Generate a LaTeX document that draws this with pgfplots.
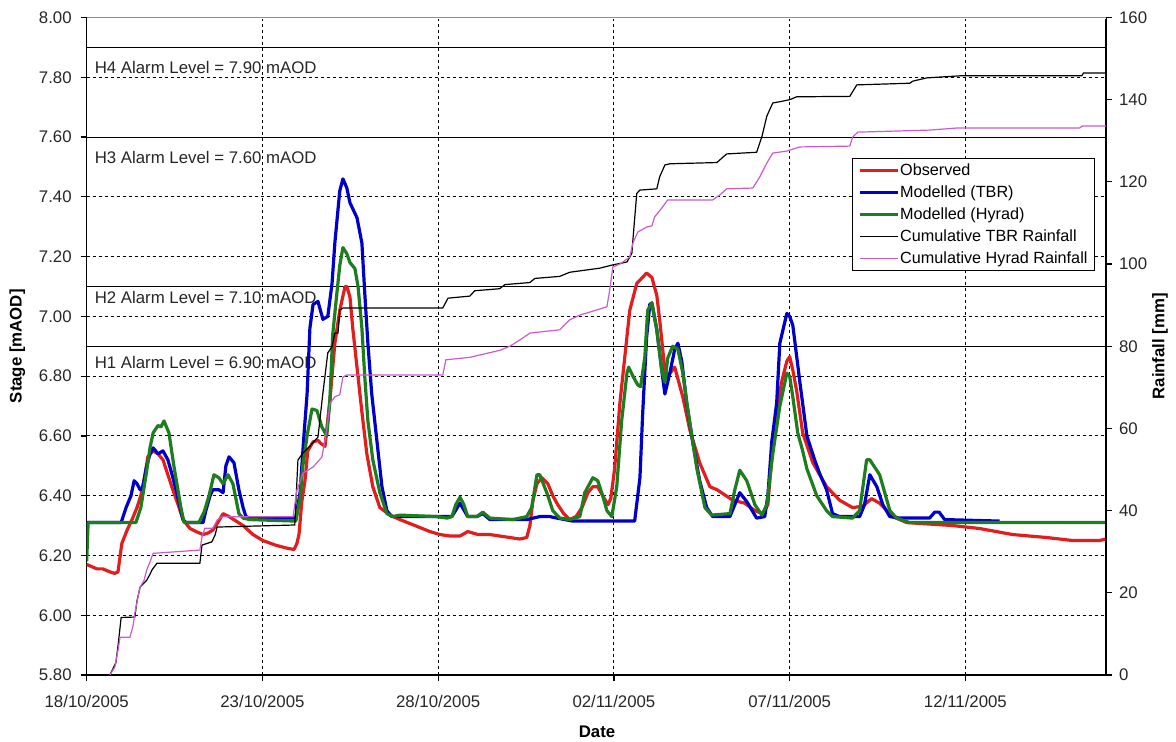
\documentclass[border=0pt]{standalone}
\usepackage{fontspec}
\setmainfont{Liberation Sans}
\usepackage{pgfplots}
\pgfplotsset{compat=1.18}
\definecolor{obsred}{RGB}{225,30,30}
\definecolor{tbrblue}{RGB}{0,0,200}
\definecolor{hygreen}{RGB}{30,125,30}
\definecolor{hymag}{RGB}{204,90,204}
\newcommand{\chartfont}{\fontsize{8.4pt}{10pt}\selectfont}
\newcommand{\legfont}{\fontsize{8.1pt}{10pt}\selectfont}

\begin{document}
\begin{tikzpicture}
\useasboundingbox (-43.35pt,-33.5pt) rectangle (544.65pt,337.5pt);
\begin{axis}[
  at={(0,0)}, anchor=south west, scale only axis,
  width=509.65pt, height=328.75pt,
  xmin=0, xmax=29, ymin=5.8, ymax=8.0,
  axis x line*=bottom, axis y line*=left,
  axis line style={black, line width=0.6pt},
  xtick={0,5,10,15,20,25},
  xticklabels={18/10/2005,23/10/2005,28/10/2005,02/11/2005,07/11/2005,12/11/2005},
  xticklabel style={yshift=-3.5pt},
  ytick={5.8,6.0,6.2,6.4,6.6,6.8,7.0,7.2,7.4,7.6,7.8,8.0},
  yticklabel={\pgfmathprintnumber[fixed,fixed zerofill,precision=2]{\tick}},
  yticklabel style={xshift=-1pt},
  /pgf/number format/assume math mode=true,
  tick label style={font=\chartfont, text=black!85},
  tick align=outside, major tick length=3pt,
  tick style={black, line width=0.6pt},
  grid=major,
  major grid style={black, dash pattern=on 1.5pt off 1.5pt, line width=0.5pt},
  xlabel={Date}, ylabel={Stage [mAOD]},
  label style={font=\chartfont\bfseries},
  xlabel style={at={(axis description cs:0.5007,-0.0867)}, anchor=center},
  ylabel style={at={(axis description cs:-0.068,0.5)}, anchor=center},
]
% alarm levels
\addplot[black, line width=0.5pt] coordinates {(0,7.90) (29,7.90)};
\addplot[black, line width=0.5pt] coordinates {(0,7.60) (29,7.60)};
\addplot[black, line width=0.5pt] coordinates {(0,7.10) (29,7.10)};
\addplot[black, line width=0.5pt] coordinates {(0,6.90) (29,6.90)};
\node[anchor=west, font=\chartfont, text=black!85, inner sep=0pt] at (axis cs:0.22,7.834) {H4 Alarm Level = 7.90 mAOD};
\node[anchor=west, font=\chartfont, text=black!85, inner sep=0pt] at (axis cs:0.22,7.532) {H3 Alarm Level = 7.60 mAOD};
\node[anchor=west, font=\chartfont, text=black!85, inner sep=0pt] at (axis cs:0.22,7.063) {H2 Alarm Level = 7.10 mAOD};
\node[anchor=west, font=\chartfont, text=black!85, inner sep=0pt] at (axis cs:0.22,6.845) {H1 Alarm Level = 6.90 mAOD};

% Observed
\addplot[obsred, line width=1.6pt, line join=round] coordinates {
(0.00,6.17) (0.29,6.155) (0.46,6.155) (0.66,6.145) (0.80,6.14) (0.89,6.145)
(1.00,6.24) (1.15,6.285) (1.29,6.32) (1.43,6.36) (1.54,6.40) (1.66,6.47)
(1.74,6.53) (1.89,6.55) (2.03,6.54) (2.17,6.52) (2.31,6.47) (2.45,6.42)
(2.60,6.37) (2.74,6.32) (2.94,6.29) (3.11,6.28) (3.31,6.27) (3.45,6.275)
(3.59,6.285) (3.73,6.31) (3.88,6.34) (4.05,6.33) (4.25,6.315) (4.45,6.30)
(4.73,6.27) (5.01,6.25) (5.36,6.235) (5.67,6.225) (5.90,6.22) (5.98,6.24)
(6.04,6.27) (6.12,6.38) (6.21,6.45) (6.29,6.55) (6.44,6.58) (6.58,6.585)
(6.66,6.575) (6.78,6.565) (6.92,6.72) (7.06,6.91) (7.20,7.02) (7.35,7.10)
(7.40,7.10) (7.49,7.065) (7.57,6.96) (7.69,6.83) (7.83,6.68) (7.97,6.54)
(8.14,6.43) (8.34,6.36) (8.63,6.335) (8.91,6.32) (9.34,6.30) (9.76,6.28)
(10.05,6.27) (10.33,6.265) (10.62,6.265) (10.84,6.28) (11.13,6.27) (11.47,6.27)
(11.75,6.265) (12.04,6.26) (12.32,6.255) (12.52,6.26) (12.61,6.30) (12.69,6.38)
(12.81,6.44) (12.95,6.46) (13.12,6.44) (13.26,6.40) (13.40,6.37) (13.57,6.34)
(13.74,6.32) (13.92,6.33) (14.09,6.36) (14.26,6.41) (14.40,6.43) (14.54,6.43)
(14.68,6.40) (14.83,6.37) (14.91,6.39) (15.02,6.49) (15.17,6.71) (15.31,6.865)
(15.45,7.02) (15.65,7.11) (15.93,7.145) (16.08,7.13) (16.22,7.07) (16.30,6.99)
(16.45,6.82) (16.53,6.80) (16.73,6.83) (16.96,6.73) (17.16,6.62) (17.44,6.51)
(17.73,6.43) (17.93,6.42) (18.38,6.385) (18.72,6.375) (19.01,6.35) (19.23,6.34)
(19.38,6.37) (19.49,6.53) (19.63,6.68) (19.77,6.78) (19.92,6.85) (20.00,6.865)
(20.09,6.82) (20.20,6.75) (20.37,6.61) (20.66,6.51) (21.05,6.43) (21.42,6.385)
(21.79,6.36) (22.08,6.365) (22.33,6.39) (22.56,6.375) (22.93,6.33) (23.33,6.31)
(23.98,6.305) (24.64,6.30) (25.41,6.29) (26.34,6.27) (27.31,6.26) (28.05,6.25)
(28.82,6.25) (29.00,6.255)
};
% Modelled (TBR)
\addplot[tbrblue, line width=1.6pt, line join=round] coordinates {
(0.00,6.31) (0.98,6.31) (1.12,6.36) (1.26,6.40) (1.35,6.45) (1.43,6.44)
(1.52,6.42) (1.60,6.43) (1.69,6.49) (1.80,6.54) (1.89,6.56) (2.03,6.54)
(2.17,6.55) (2.31,6.52) (2.43,6.47) (2.54,6.42) (2.74,6.32) (2.82,6.31)
(3.31,6.31) (3.39,6.35) (3.51,6.40) (3.59,6.42) (3.76,6.42) (3.88,6.41)
(3.96,6.50) (4.05,6.53) (4.19,6.51) (4.33,6.42) (4.45,6.36) (4.53,6.33)
(4.64,6.325) (5.95,6.325) (6.07,6.41) (6.18,6.60) (6.27,6.74) (6.35,6.96)
(6.44,7.04) (6.58,7.05) (6.72,6.99) (6.86,7.00) (6.98,7.11) (7.06,7.245)
(7.20,7.42) (7.29,7.46) (7.40,7.43) (7.49,7.38) (7.69,7.33) (7.83,7.245)
(7.91,7.08) (8.00,6.91) (8.11,6.74) (8.26,6.58) (8.40,6.43) (8.54,6.35)
(8.68,6.33) (9.96,6.33) (10.39,6.33) (10.62,6.375) (10.84,6.33) (11.10,6.33)
(11.27,6.34) (11.47,6.32) (12.52,6.32) (12.89,6.33) (13.18,6.33) (13.38,6.325)
(13.83,6.315) (15.59,6.315) (15.74,6.46) (15.82,6.68) (15.93,6.93) (16.02,7.04)
(16.08,7.045) (16.22,6.955) (16.36,6.82) (16.45,6.74) (16.59,6.81) (16.73,6.89)
(16.82,6.91) (16.93,6.85) (17.07,6.71) (17.24,6.58) (17.44,6.45) (17.64,6.36)
(17.81,6.33) (18.30,6.33) (18.44,6.37) (18.58,6.41) (18.78,6.38) (19.06,6.325)
(19.29,6.33) (19.38,6.40) (19.49,6.58) (19.63,6.71) (19.72,6.91) (19.92,7.01)
(20.00,7.00) (20.09,6.97) (20.29,6.78) (20.49,6.60) (20.71,6.52) (20.85,6.475)
(21.05,6.42) (21.22,6.34) (21.42,6.33) (21.99,6.33) (22.13,6.37) (22.28,6.47)
(22.48,6.43) (22.65,6.37) (22.85,6.33) (23.13,6.325) (23.98,6.325) (24.13,6.345)
(24.25,6.345) (24.41,6.32) (25.97,6.315)
};
% Modelled (Hyrad)
\addplot[hygreen, line width=1.6pt, line join=round] coordinates {
(0.00,6.18) (0.04,6.31) (1.12,6.31) (1.40,6.31) (1.54,6.36) (1.69,6.47)
(1.80,6.56) (1.89,6.61) (2.03,6.635) (2.11,6.63) (2.20,6.65) (2.34,6.61)
(2.48,6.50) (2.68,6.36) (2.77,6.31) (3.19,6.31) (3.34,6.345) (3.48,6.40)
(3.62,6.47) (3.76,6.46) (3.88,6.44) (4.02,6.47) (4.16,6.44) (4.33,6.34)
(4.45,6.325) (4.64,6.32) (5.95,6.315) (6.07,6.39) (6.15,6.50) (6.27,6.60)
(6.41,6.69) (6.55,6.685) (6.69,6.63) (6.83,6.60) (6.92,6.72) (7.00,6.94)
(7.12,7.08) (7.20,7.17) (7.29,7.23) (7.40,7.21) (7.49,7.18) (7.63,7.16)
(7.72,7.10) (7.83,6.96) (7.91,6.80) (8.00,6.65) (8.14,6.52) (8.34,6.41)
(8.54,6.34) (8.71,6.33) (8.91,6.335) (9.96,6.33) (10.25,6.325) (10.39,6.33)
(10.50,6.37) (10.62,6.395) (10.73,6.37) (10.84,6.33) (11.10,6.33) (11.27,6.345)
(11.47,6.325) (12.12,6.32) (12.52,6.33) (12.66,6.36) (12.81,6.47) (12.89,6.47)
(13.09,6.41) (13.26,6.35) (13.46,6.325) (13.74,6.32) (14.03,6.33) (14.17,6.41)
(14.40,6.46) (14.54,6.45) (14.68,6.40) (14.80,6.35) (14.94,6.33) (15.08,6.43)
(15.22,6.65) (15.37,6.81) (15.42,6.83) (15.54,6.80) (15.68,6.77) (15.76,6.765)
(15.88,6.865) (15.96,7.02) (16.08,7.045) (16.22,6.955) (16.36,6.82) (16.45,6.78)
(16.53,6.86) (16.67,6.90) (16.82,6.89) (16.96,6.81) (17.10,6.69) (17.36,6.49)
(17.59,6.36) (17.78,6.335) (18.30,6.34) (18.44,6.42) (18.58,6.485) (18.78,6.45)
(19.01,6.37) (19.21,6.335) (19.35,6.37) (19.52,6.54) (19.72,6.70) (19.92,6.81)
(20.00,6.80) (20.09,6.73) (20.23,6.61) (20.37,6.55) (20.49,6.49) (20.77,6.40)
(21.05,6.35) (21.22,6.33) (21.79,6.325) (21.99,6.35) (22.19,6.52) (22.28,6.52)
(22.56,6.47) (22.85,6.35) (23.04,6.325) (23.42,6.31) (29.00,6.31)
};
\end{axis}

\begin{axis}[
  at={(0,0)}, anchor=south west, scale only axis,
  width=509.65pt, height=328.75pt,
  xmin=0, xmax=29, ymin=0, ymax=160,
  axis y line*=right, axis x line=none,
  axis line style={black, line width=0.6pt},
  ytick={0,20,40,60,80,100,120,140,160},
  /pgf/number format/assume math mode=true,
  tick label style={font=\chartfont, text=black!85},
  tick align=outside, major tick length=3pt,
  tick style={black, line width=0.6pt},
  ylabel={Rainfall [mm]},
  label style={font=\chartfont\bfseries},
  ylabel style={at={(axis description cs:1.053,0.5)}, anchor=center},
  legend style={at={(0.989,0.786)}, anchor=north east, draw=black, line width=0.5pt,
    fill=white, font=\legfont, inner xsep=3pt, inner ysep=0.5pt,
    nodes={inner ysep=1.5pt, inner xsep=0.4pt, text height=6.2pt, text depth=1.8pt},
    cells={anchor=west}},
  legend image code/.code={\draw[#1] (0pt,0pt) -- (19pt,0pt);},
]
\addlegendimage{obsred, line width=1.6pt}
\addlegendentry{Observed}
\addlegendimage{tbrblue, line width=1.6pt}
\addlegendentry{Modelled (TBR)}
\addlegendimage{hygreen, line width=1.6pt}
\addlegendentry{Modelled (Hyrad)}
% Cumulative TBR rainfall
\addplot[black, line width=0.6pt] coordinates {
(0.66,0) (0.83,3) (0.89,7) (0.98,14) (1.37,14.1) (1.43,18) (1.52,21.4)
(1.71,23.1) (1.80,24.5) (1.86,25.6) (2.00,27.2) (3.22,27.2) (3.28,31.6)
(3.56,32.4) (3.65,34) (3.71,36.0) (5.92,36.5) (6.01,52.3) (6.15,54)
(6.35,55.7) (6.58,57.9) (6.72,68.6) (6.86,78.4) (6.98,79.9) (7.06,83.2)
(7.15,83.2) (7.20,88.8) (7.29,89.3) (10.13,89.3) (10.28,91.7) (10.90,92.2)
(11.04,93.5) (11.75,94) (11.90,95) (12.61,95.5) (12.75,96.5) (13.46,97)
(13.74,98) (14.60,99) (14.97,99.8) (15.37,100.5) (15.51,102.6) (15.54,105.9)
(15.65,117.2) (15.74,118) (16.22,118.3) (16.30,121.2) (16.45,124.1) (16.59,124.4)
(17.93,124.7) (18.10,126) (18.21,126.8) (19.06,127.2) (19.21,131) (19.35,136)
(19.52,139.2) (19.72,139.5) (20.00,140) (20.20,140.7) (21.71,140.8) (21.91,143.6)
(23.42,144) (23.50,144.5) (23.90,145.3) (24.84,145.8) (28.31,145.8) (28.36,146.5)
(29.00,146.5)
};
\addlegendentry{Cumulative TBR Rainfall}
% Cumulative Hyrad rainfall
\addplot[hymag, line width=0.6pt] coordinates {
(0.66,0) (0.80,1.9) (0.89,6) (0.95,9.2) (1.23,9.2) (1.32,12) (1.37,15)
(1.46,19) (1.52,21.4) (1.63,23) (1.71,25.6) (1.80,27.5) (1.89,29.6)
(3.22,30.4) (3.28,33.6) (3.36,35.7) (3.59,35.7) (3.71,37.7) (3.85,38.5)
(5.87,38.5) (5.98,45) (6.07,47) (6.15,49.1) (6.44,50.6) (6.69,53)
(6.83,59.6) (6.92,66.1) (7.06,67.7) (7.20,68.2) (7.29,72.5) (7.40,73)
(10.13,73) (10.22,76.7) (10.90,77.3) (11.75,79) (12.04,80) (12.32,81.5)
(12.61,83.2) (13.46,84) (13.74,86.4) (14.03,87.6) (14.31,88.3) (14.80,89.6)
(14.88,93.7) (14.97,99.3) (15.17,100) (15.45,101.7) (15.54,105.1) (15.68,107.8)
(15.93,109) (16.08,109.3) (16.16,111.5) (16.36,113.6) (16.53,115.6) (17.81,115.6)
(18.01,116.8) (18.21,118.3) (18.95,118.5) (19.15,121.2) (19.35,124.6) (19.52,127)
(19.92,127.5) (20.29,128.5) (21.71,128.7) (21.79,130.9) (21.94,132.1) (23.98,132.6)
(24.75,133.1) (28.25,133.1) (28.33,133.6) (29.00,133.6)
};
\addlegendentry{Cumulative Hyrad Rainfall}
\end{axis}
\draw[white, line width=1.2pt] (0pt,328.75pt) -- (509.65pt,328.75pt);
\draw[black!45, line width=0.6pt] (0pt,328.75pt) -- (509.65pt,328.75pt);
\end{tikzpicture}
\end{document}
